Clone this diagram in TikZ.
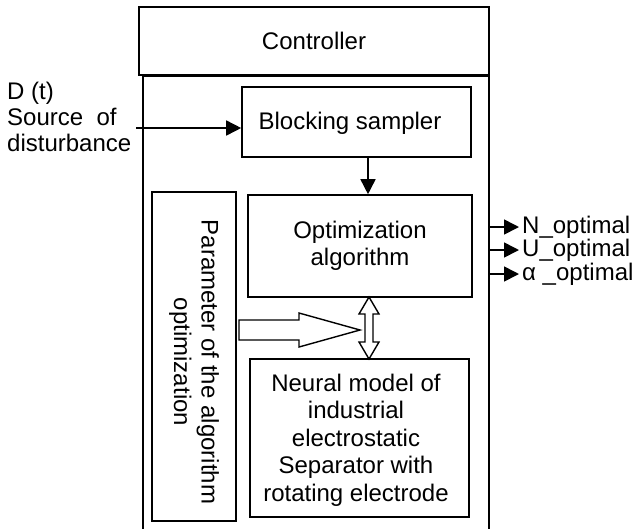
\documentclass[tikz,border=0pt]{standalone}
\usepackage{fontspec}
\setmainfont{Liberation Sans}
\usetikzlibrary{arrows.meta}
\begin{document}
\begin{tikzpicture}[x=1pt,y=-1pt,
  box/.style={draw,line width=1.6pt,inner sep=0pt},
  lbl/.style={font=\fontsize{24}{27.5}\selectfont, align=center, inner sep=0pt},
  arr/.style={line width=1.6pt,-{Triangle[length=15pt,width=15pt]}},
]
\useasboundingbox (0,0) rectangle (636,528);
\clip (0,0) rectangle (636,528);
% outer controller frame (bottom cut off)
\node[box,minimum width=346,minimum height=490,anchor=north west] (outer) at (142,75) {};
\node[box,lbl,minimum width=350,minimum height=68] (ctrl) at (314,41) {Controller};
% blocks
\node[box,minimum width=229,minimum height=70] (block) at (356.5,122) {};
\node[lbl] (blocktxt) at (350,123) {Blocking sampler};
\node[box,lbl,minimum width=224,minimum height=102] (opt) at (360,246) {Optimization\\algorithm};
\node[box,minimum width=219,minimum height=158] (neur) at (359.5,438) {};
\node[lbl] (neurtxt) at (356,440) {Neural model of\\industrial\\electrostatic\\Separator with\\rotating electrode};
\node[box,minimum width=84,minimum height=329] (param) at (194,356.5) {};
\node[lbl,rotate=-90] (paramtxt) at (194,362) {Parameter of the algorithm\\optimization};
% disturbance input
\node[lbl,align=left,anchor=west,font=\fontsize{24}{26}\selectfont] (src) at (7,117) {D (t)\\Source~~of\\disturbance};
\coordinate (din) at (136,128);
\draw[arr] (din) -- (din -| block.west);
% sampler -> optimization
\coordinate (a1) at (368,157);
\draw[arr] (a1) -- (a1 |- opt.north);
% double arrow between optimization and neural model
\coordinate (dtop) at (369,297);
\coordinate (dbot) at (369,359);
\draw[line width=1.4pt,fill=white] (dtop) -- ++(10,17) -- ++(-6,0) -- ++(0,28) -- ++(6,0) -- (dbot) -- ++(-10,-17) -- ++(6,0) -- ++(0,-28) -- ++(-6,0) -- cycle;
% hollow arrow from parameter block
\draw[line width=1.4pt,fill=white] (239,320) -- (299,320) -- (299,313) -- (360,330) -- (299,347) -- (299,340) -- (239,340) -- cycle;
% outputs
\node[lbl,anchor=west] (nopt) at (522,227) {N\_optimal};
\node[lbl,anchor=west] (uopt) at (522,250) {U\_optimal};
\node[lbl,anchor=west] (aopt) at (522,274) {α \_optimal};
\coordinate (o1) at (488,227);
\coordinate (o2) at (488,250);
\coordinate (o3) at (488,274);
\draw[arr,shorten >=3pt] (o1) -- (nopt.west);
\draw[arr,shorten >=3pt] (o2) -- (uopt.west);
\draw[arr,shorten >=3pt] (o3) -- (aopt.west);
\end{tikzpicture}
\end{document}
